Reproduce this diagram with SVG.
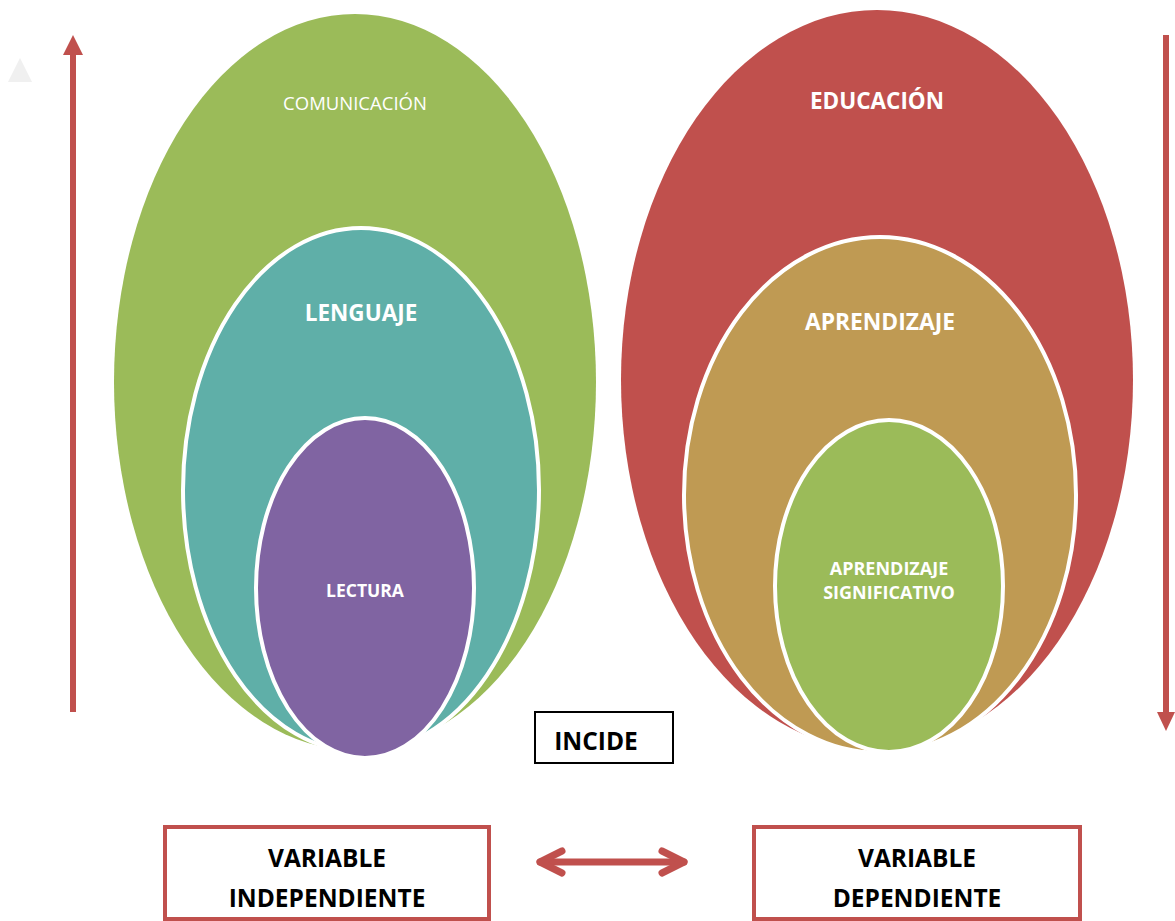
<svg xmlns="http://www.w3.org/2000/svg" width="1175" height="921" viewBox="0 0 1175 921">
<defs>
<style>
.t{font-family:"Open Sans","Liberation Sans",sans-serif;fill:#fff;text-anchor:middle}
.b{font-weight:bold}
.k{font-family:"Open Sans","Liberation Sans",sans-serif;fill:#000;text-anchor:middle;font-weight:bold}
.in{stroke:#fff;stroke-width:4}
.box{fill:#fff;stroke:#C0504D;stroke-width:4}
</style>
</defs>
<rect width="1175" height="921" fill="#fff"/>
<polygon points="20,58 8,82 32,82" fill="#F0F0F0"/>
<g id="left">
<g id="comunicacion"><ellipse cx="355" cy="382" rx="241" ry="368" fill="#9BBB59"/><text class="t" x="355" y="110" font-size="18.5">COMUNICACIÓN</text></g>
<g id="lenguaje"><ellipse class="in" cx="361" cy="490" rx="178" ry="262" fill="#5FAFA8"/><text class="t b" x="361" y="321" font-size="22.5">LENGUAJE</text></g>
<g id="lectura"><ellipse class="in" cx="365" cy="588" rx="109" ry="170" fill="#8064A2"/><text class="t b" x="365" y="597" font-size="17.5">LECTURA</text></g>
</g>
<g id="right">
<g id="educacion"><ellipse cx="877" cy="380" rx="256" ry="370" fill="#C0504D"/><text class="t b" x="877" y="109" font-size="22.5">EDUCACIÓN</text></g>
<g id="aprendizaje"><ellipse class="in" cx="880" cy="495" rx="196" ry="258" fill="#BF9A53"/><text class="t b" x="880" y="330" font-size="22.8">APRENDIZAJE</text></g>
<g id="significativo"><ellipse class="in" cx="889" cy="586" rx="114" ry="166" fill="#9BBB59"/><text class="t b" x="889" y="575" font-size="18">APRENDIZAJE</text><text class="t b" x="889" y="599" font-size="18">SIGNIFICATIVO</text></g>
</g>
<g id="incide"><rect x="535" y="712" width="138" height="51" fill="#fff" stroke="#000" stroke-width="2"/><text class="k" x="596" y="750" font-size="24.5">INCIDE</text></g>
<g id="var-ind"><rect class="box" x="165" y="827" width="324" height="92"/><text class="k" x="327" y="867" font-size="24.5">VARIABLE</text><text class="k" x="327" y="907" font-size="24.5">INDEPENDIENTE</text></g>
<g id="var-dep"><rect class="box" x="754" y="827" width="326" height="92"/><text class="k" x="917" y="867" font-size="24.5">VARIABLE</text><text class="k" x="917" y="907" font-size="24.5">DEPENDIENTE</text></g>
<g id="connectors" fill="#C0504D" stroke="#C0504D">
<line x1="73" y1="712" x2="73" y2="52" stroke-width="6"/>
<polygon points="73,35 63,55 83,55" stroke="none"/>
<line x1="1166" y1="35" x2="1166" y2="714" stroke-width="6"/>
<polygon points="1166,731 1157,712 1175,712" stroke="none"/>
<g fill="none" stroke-width="7" stroke-linecap="round" stroke-linejoin="round">
<line x1="540" y1="862" x2="684" y2="862"/>
<polyline points="562,851 540,862 562,873"/>
<polyline points="662,851 684,862 662,873"/>
</g>
</g>
</svg>
